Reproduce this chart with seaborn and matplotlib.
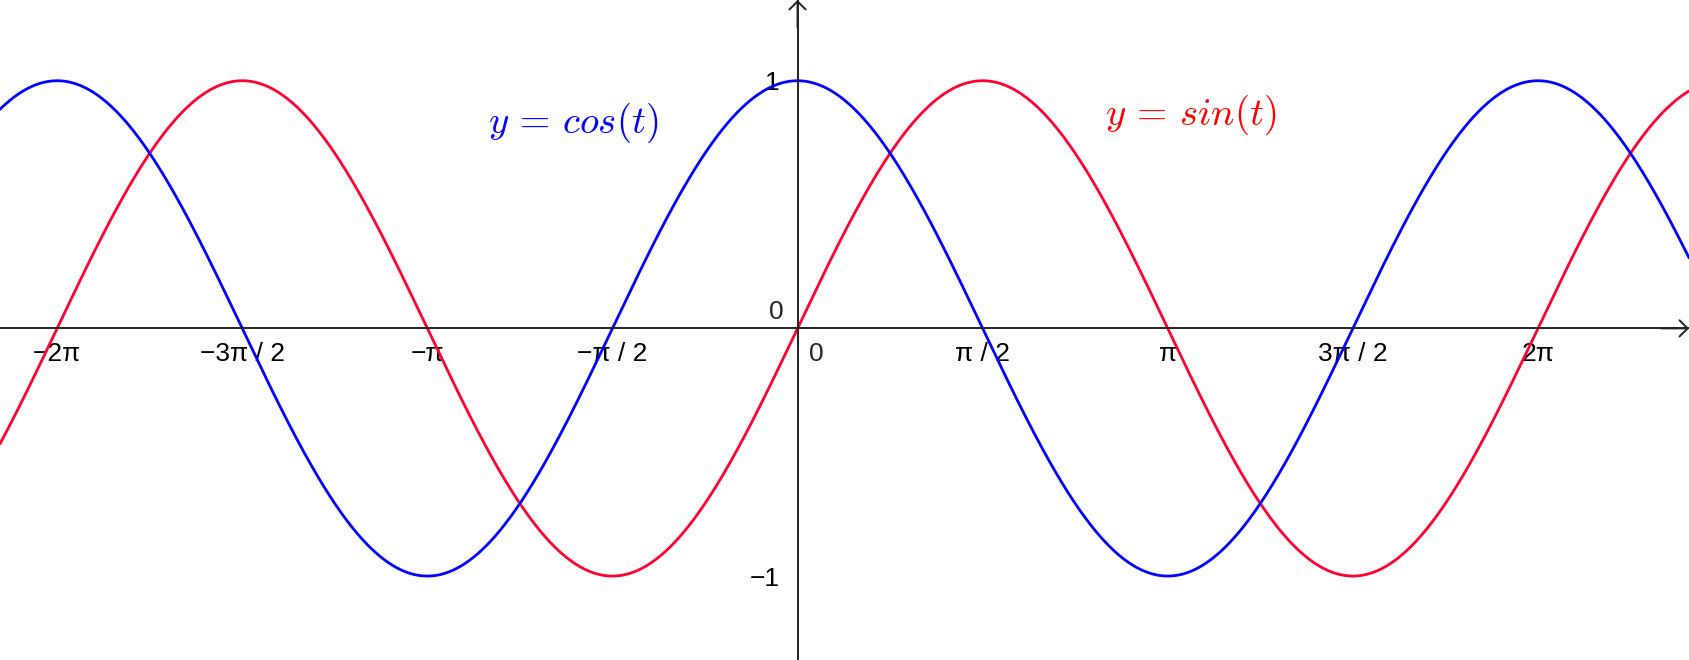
import numpy as np
import pandas as pd
import matplotlib
matplotlib.use("Agg")
import matplotlib.pyplot as plt
import seaborn as sns

# ---- data ----
x_tick_halfpi = [-4, -3, -2, -1, 1, 2, 3, 4]          # multiples of pi/2
x_tick_labels = ["−2π", "−3π / 2", "−π", "−π / 2", "π / 2", "π", "3π / 2", "2π"]
y_tick_values = [-1, 1]
y_tick_labels = ["−1", "1"]
x_min, x_max = -6.768, 7.565
y_min, y_max = -1.339, 1.326
curve_names = ["y = sin(t)", "y = cos(t)"]
curve_labels = [r"$y\,=\,sin(t)$", r"$y\,=\,cos(t)$"]
label_x = [2.612, -2.628]
label_y = [0.862, 0.830]

t = np.linspace(x_min, x_max, 1500)
df = pd.concat([
    pd.DataFrame({"t": t, "y": np.sin(t), "curve": curve_names[0]}),
    pd.DataFrame({"t": t, "y": np.cos(t), "curve": curve_names[1]}),
])

sns.set_style("white")
plt.rcParams["font.family"] = ["Liberation Sans", "DejaVu Sans"]
plt.rcParams["mathtext.fontset"] = "cm"

fig = plt.figure(figsize=(16.89, 6.6), dpi=100)
ax = fig.add_axes([0, 0, 1, 1])

palette = {curve_names[0]: "#FF0033", curve_names[1]: "#0000FF"}
sns.lineplot(data=df, x="t", y="y", hue="curve", palette=palette,
             linewidth=2.0, legend=False, ax=ax, sort=False, estimator=None)

ax.set_xlim(x_min, x_max)
ax.set_ylim(y_min, y_max)
ax.set_xlabel("")
ax.set_ylabel("")

for s in ["top", "right"]:
    ax.spines[s].set_visible(False)
ax.spines["left"].set_position(("data", 0))
ax.spines["bottom"].set_position(("data", 0))
for s in ["left", "bottom"]:
    ax.spines[s].set_linewidth(1.4)
    ax.spines[s].set_color("#222222")

ax.set_xticks([v * np.pi / 2 for v in x_tick_halfpi], x_tick_labels)
ax.set_yticks(y_tick_values, y_tick_labels)
ax.tick_params(axis="x", direction="out", length=3.6, width=1.1, pad=6,
               labelsize=19, colors="black")
ax.tick_params(axis="y", direction="out", length=3.6, width=1.1, pad=9,
               labelsize=19, colors="black")

# zero labels
ax.annotate("0", xy=(0, 0), xytext=(8, -10), textcoords="offset points",
            ha="left", va="top", fontsize=19)
ax.annotate("0", xy=(0, 0), xytext=(-10, 3), textcoords="offset points",
            ha="right", va="bottom", fontsize=19)

# axis arrows
arrow = dict(arrowstyle="->,head_length=0.45,head_width=0.45", lw=1.4,
             color="#222222", mutation_scale=13, shrinkA=0, shrinkB=0)
ax.annotate("", xy=(1, 0), xycoords=("axes fraction", "data"),
            xytext=(-20, 0), textcoords="offset points",
            arrowprops=arrow, annotation_clip=False)
ax.annotate("", xy=(0, 1), xycoords=("data", "axes fraction"),
            xytext=(0, -20), textcoords="offset points",
            arrowprops=arrow, annotation_clip=False)

# curve labels
for txt, lx, ly, col in zip(curve_labels, label_x, label_y, ["#FF0000", "#0000FF"]):
    ax.text(lx, ly, txt, color=col, fontsize=28, ha="left", va="center")

fig.savefig("out.png", dpi=100)
